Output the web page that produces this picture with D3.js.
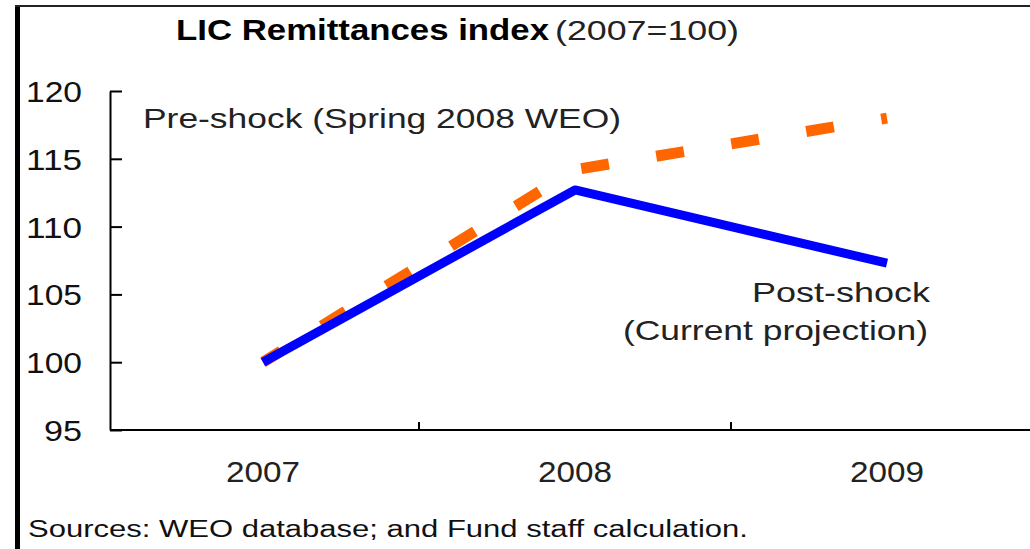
<!DOCTYPE html>
<html>
<head>
<meta charset="utf-8">
<script src="https://cdn.jsdelivr.net/npm/d3@7"></script>
<style>
  body { margin: 0; background: #fff; }
  svg { display: block; font-family: "Liberation Sans", Arial, sans-serif; }
</style>
</head>
<body>
<div id="chart"></div>
<script>
// chart values
let years = ["2007", "2008", "2009"];
let preShock = [100, 114.2, 118.0];
let postShock = [100, 112.7, 107.3];
let yTicks = [95, 100, 105, 110, 115, 120];

let width = 1030;
let height = 549;

let svg = d3.select("#chart").append("svg")
  .attr("width", width)
  .attr("height", height);

let xScale = d3.scaleBand().domain(years).range([107, 1043]);
let yScale = d3.scaleLinear().domain([95, 120]).range([430, 91]);

// outer frame (left and top edge)
svg.append("line")
  .attr("x1", 17.5).attr("x2", 17.5).attr("y1", 5).attr("y2", height)
  .attr("stroke", "#000").attr("stroke-width", 5);
svg.append("line")
  .attr("x1", 15).attr("x2", width).attr("y1", 6).attr("y2", 6)
  .attr("stroke", "#222").attr("stroke-width", 2);

// title
svg.append("text")
  .attr("x", 176).attr("y", 40)
  .attr("font-size", 30).attr("font-weight", "bold")
  .attr("textLength", 373).attr("lengthAdjust", "spacingAndGlyphs")
  .text("LIC Remittances index");
svg.append("text")
  .attr("x", 555).attr("y", 40)
  .attr("font-size", 28).attr("fill", "#222")
  .attr("textLength", 184).attr("lengthAdjust", "spacingAndGlyphs")
  .text("(2007=100)");

// y axis
let yAxis = d3.axisLeft(yScale)
  .tickValues(yTicks)
  .tickSize(-12)
  .tickSizeOuter(0)
  .tickPadding(28);
let gy = svg.append("g")
  .attr("transform", "translate(110,0)")
  .call(yAxis);
gy.select(".domain").attr("stroke", "#000").attr("stroke-width", 2);
gy.selectAll(".tick line").attr("stroke", "#000").attr("stroke-width", 2);
gy.selectAll(".tick text")
  .attr("font-size", 29)
  .attr("fill", "#111")
  .attr("font-family", "Liberation Sans, Arial, sans-serif")
  .attr("dy", "0.36em")
  .attr("textLength", d => d >= 100 ? 56 : 38)
  .attr("lengthAdjust", "spacingAndGlyphs");

// x axis line with category boundary ticks
svg.append("line")
  .attr("x1", 110).attr("x2", width)
  .attr("y1", yScale(95)).attr("y2", yScale(95))
  .attr("stroke", "#000").attr("stroke-width", 2);
svg.selectAll(".xtick")
  .data(years.slice(1))
  .enter().append("line")
  .attr("class", "xtick")
  .attr("x1", d => xScale(d)).attr("x2", d => xScale(d))
  .attr("y1", yScale(95)).attr("y2", yScale(95) - 8)
  .attr("stroke", "#000").attr("stroke-width", 2);
svg.selectAll(".xlabel")
  .data(years)
  .enter().append("text")
  .attr("class", "xlabel")
  .attr("x", d => xScale(d) + xScale.bandwidth() / 2)
  .attr("y", 482)
  .attr("text-anchor", "middle")
  .attr("font-size", 30)
  .attr("fill", "#222")
  .attr("textLength", 74).attr("lengthAdjust", "spacingAndGlyphs")
  .text(d => d);

// lines
let line = d3.line()
  .x((d, i) => xScale(years[i]) + xScale.bandwidth() / 2)
  .y(d => yScale(d));

svg.append("path")
  .attr("d", line(preShock))
  .attr("fill", "none")
  .attr("stroke", "#ff6600")
  .attr("stroke-width", 11)
  .attr("stroke-dasharray", "28,48")
  .attr("stroke-dashoffset", 7);

svg.append("path")
  .attr("d", line(postShock))
  .attr("fill", "none")
  .attr("stroke", "#0000ff")
  .attr("stroke-width", 9)
  .attr("stroke-linejoin", "round");

// series labels
svg.append("text")
  .attr("x", 143).attr("y", 128)
  .attr("font-size", 28).attr("fill", "#222")
  .attr("textLength", 478).attr("lengthAdjust", "spacingAndGlyphs")
  .text("Pre-shock (Spring 2008 WEO)");
svg.append("text")
  .attr("x", 752).attr("y", 302)
  .attr("font-size", 28).attr("fill", "#222")
  .attr("textLength", 178).attr("lengthAdjust", "spacingAndGlyphs")
  .text("Post-shock");
svg.append("text")
  .attr("x", 623).attr("y", 340)
  .attr("font-size", 28).attr("fill", "#222")
  .attr("textLength", 305).attr("lengthAdjust", "spacingAndGlyphs")
  .text("(Current projection)");

// source note
svg.append("text")
  .attr("x", 28).attr("y", 537)
  .attr("font-size", 23).attr("fill", "#111")
  .attr("textLength", 720).attr("lengthAdjust", "spacingAndGlyphs")
  .text("Sources: WEO database; and Fund staff calculation.");
</script>
</body>
</html>
